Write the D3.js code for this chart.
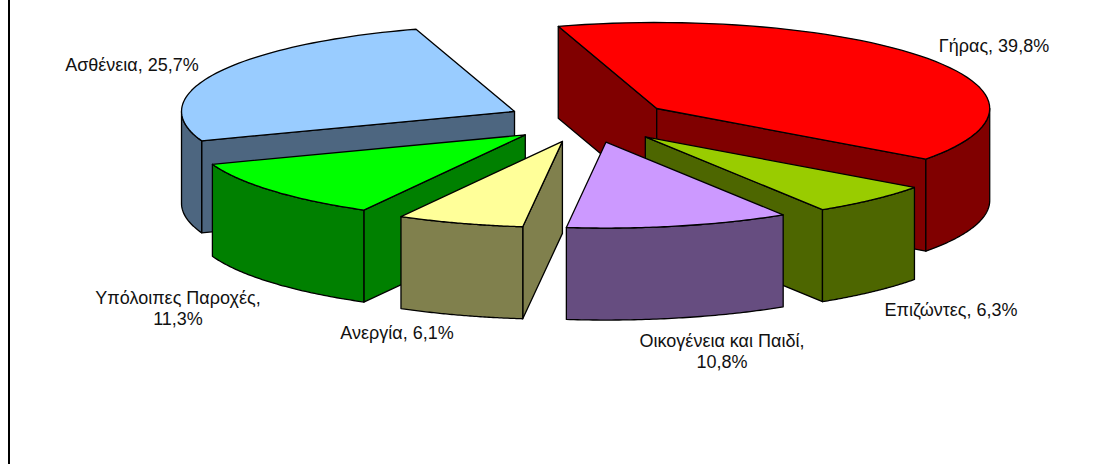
<!DOCTYPE html>
<html>
<head>
<meta charset="utf-8">
<script src="https://cdn.jsdelivr.net/npm/d3@7"></script>
<style>
  html, body { margin: 0; padding: 0; background: #fff; }
  svg { display: block; }
  text { font-family: "Liberation Sans", Arial, sans-serif; font-size: 18px; fill: #111; }
</style>
</head>
<body>
<div id="chart"></div>
<script>
const categories = ["Γήρας", "Επιζώντες", "Οικογένεια και Παιδί", "Ανεργία", "Υπόλοιπες Παροχές", "Ασθένεια"];
const shares = [39.8, 6.3, 10.8, 6.1, 11.3, 25.7];
const topColors = ["#ff0000", "#99cc00", "#cc99ff", "#ffff99", "#00ff00", "#99ccff"];
const wallColors = ["#800000", "#4d6600", "#664d80", "#80804d", "#008000", "#4d6680"];

// label centre and first baseline, same order as categories
const labelSpots = [[994, 51.5], [951, 315.5], [722, 346.5], [397, 339], [178, 304], [132, 71]];
const twoLines = [false, false, true, false, true, false];

// the original's projection is not a clean ellipse, end of each slice is off by this many degrees
const endTurns = [0, -0.9, -0.8, -0.6, -0.3, 0];

const width = 1104;
const height = 464;
const center = { x: 589, y: 121 };
const radiusX = 333;
const radiusY = 86;
const depth = 92;
const explode = 0.25;
const startAngle = (-17.2 * Math.PI) / 180;
const rad = Math.PI / 180;

const svg = d3.select("#chart").append("svg").attr("width", width).attr("height", height);

// frame of the original chart, only the left side shows
svg.append("line")
  .attr("x1", 9).attr("x2", 9)
  .attr("y1", 0).attr("y2", height)
  .attr("stroke", "#000").attr("stroke-width", 2);

const x = d3.scaleLinear().domain([-1, 1]).range([-radiusX, radiusX]);
const y = d3.scaleLinear().domain([-1, 1]).range([-radiusY, radiusY]);

const pie = d3.pie().sort(null).startAngle(startAngle).endAngle(startAngle + 2 * Math.PI);

const slices = pie(shares).map((d, i) => {
  const mid = (d.startAngle + d.endAngle) / 2;
  return {
    ...d,
    i,
    startAngle: d.startAngle + (i === 0 ? 0 : endTurns[i - 1] * rad),
    endAngle: d.endAngle + endTurns[i] * rad,
    apex: [center.x + explode * x(Math.sin(mid)), center.y + explode * y(-Math.cos(mid))],
  };
});

const rim = (s, a) => [s.apex[0] + x(Math.sin(a)), s.apex[1] + y(-Math.cos(a))];
const drop = ([px, py]) => [px, py + depth];
const arcPoints = (s, a0, a1) =>
  d3.range(0, 61).map((k) => rim(s, a0 + ((a1 - a0) * k) / 60));

const line = d3.line();

// back slices first
const order = slices.slice().sort((a, b) => d3.ascending(a.apex[1], b.apex[1]));

const groups = svg.selectAll("g.slice").data(order).join("g").attr("class", "slice");

const faceStyle = (sel, colors) =>
  sel.attr("fill", (d) => colors[d.s.i])
    .attr("stroke", "#000")
    .attr("stroke-width", 1.3)
    .attr("stroke-linejoin", "round");

groups.each(function (s) {
  const g = d3.select(this);
  const faces = [];

  // flat cut walls, only those turned to the viewer
  const startNormal = s.startAngle - Math.PI / 2;
  const endNormal = s.endAngle + Math.PI / 2;
  if (Math.cos(startNormal) < 0) {
    const p = rim(s, s.startAngle);
    faces.push([s.apex, p, drop(p), drop(s.apex)]);
  }
  if (Math.cos(endNormal) < 0) {
    const p = rim(s, s.endAngle);
    faces.push([s.apex, p, drop(p), drop(s.apex)]);
  }

  // curved outer wall, front half of the ellipse only
  const turns = [Math.PI / 2, (3 * Math.PI) / 2];
  const a0 = Math.max(s.startAngle, turns[0]);
  const a1 = Math.min(s.endAngle, turns[1]);
  if (a1 > a0) {
    const outer = arcPoints(s, a0, a1);
    faces.push(outer.concat(outer.map(drop).reverse()));
  }

  faceStyle(
    g.selectAll("path.wall").data(faces.map((f) => ({ f, s }))).join("path")
      .attr("class", "wall")
      .attr("d", (d) => line(d.f) + "Z"),
    wallColors
  );

  const top = [s.apex].concat(arcPoints(s, s.startAngle, s.endAngle));
  faceStyle(
    g.append("path").datum({ s }).attr("class", "top").attr("d", line(top) + "Z"),
    topColors
  );
});

const labels = svg.selectAll("text.label").data(slices).join("text")
  .attr("class", "label")
  .attr("text-anchor", "middle")
  .attr("transform", (d) => `translate(${labelSpots[d.i][0]},${labelSpots[d.i][1]})`);

const pct = (v) => d3.format(".1f")(v).replace(".", ",") + "%";

labels.each(function (d) {
  const t = d3.select(this);
  if (twoLines[d.i]) {
    t.append("tspan").attr("x", 0).attr("y", 0).text(categories[d.i] + ",");
    t.append("tspan").attr("x", 0).attr("y", 21).text(pct(d.data));
  } else {
    t.text(categories[d.i] + ", " + pct(d.data));
  }
});
</script>
</body>
</html>
